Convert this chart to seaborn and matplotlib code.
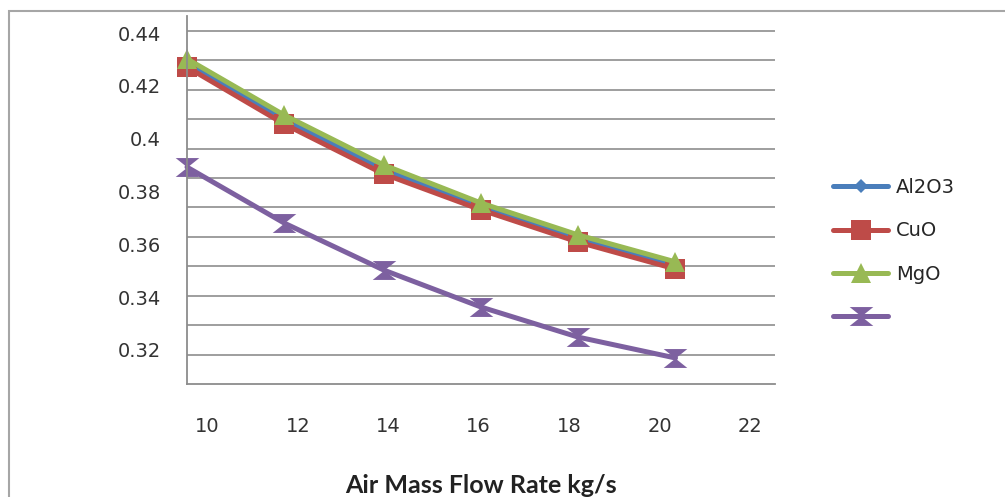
import matplotlib
matplotlib.use("Agg")
import matplotlib.pyplot as plt
from matplotlib.patches import Rectangle
from matplotlib.lines import Line2D
import seaborn as sns

# values
flow_rate = [9.55, 11.7, 13.9, 16.05, 18.2, 20.35]
al2o3 = [0.4286, 0.4072, 0.3883, 0.3743, 0.3621, 0.3520]
cuo = [0.4271, 0.4055, 0.3866, 0.3730, 0.3608, 0.3506]
mgo = [0.4302, 0.4089, 0.3900, 0.3756, 0.3635, 0.3533]
base = [0.3892, 0.3680, 0.3502, 0.3362, 0.3248, 0.3169]

series_names = ["Al2O3", "CuO", "MgO", " "]
x_ticks = [10, 12, 14, 16, 18, 20, 22]
y_ticks = [0.32, 0.34, 0.36, 0.38, 0.40, 0.42, 0.44]
y_tick_labels = ["0.32", "0.34", "0.36", "0.38", "0.4", "0.42", "0.44"]

sns.set_style("white")
plt.rcParams['font.family'] = ['DejaVu Sans']

hourglass = [(-1, 0.8), (1, 0.8), (-1, -0.8), (1, -0.8), (-1, 0.8)]
styles = [
    dict(color="#4A7EBB", marker="D", markersize=7),
    dict(color="#BE4B48", marker="s", markersize=14),
    dict(color="#98B954", marker="^", markersize=15),
    dict(color="#7D60A0", marker=hourglass, markersize=17),
]

fig = plt.figure(figsize=(10.05, 4.97), dpi=100)
pos = [187 / 1005, 113 / 497, 588 / 1005, 368 / 497]

# gridline layer (the reference's gridlines are spaced independently of its labels)
gax = fig.add_axes(pos)
gax.set_ylim(0, 368 / 29.42)
gax.set_yticks(range(1, 13))
gax.set_xticks([])
gax.tick_params(left=False, labelleft=False)
gax.grid(axis="y", color="#969696", linewidth=1.3)
for s in gax.spines.values():
    s.set_visible(False)

ax = fig.add_axes(pos)
ax.patch.set_visible(False)

for vals, name, st in zip([al2o3, cuo, mgo, base], series_names, styles):
    sns.lineplot(x=flow_rate, y=vals, ax=ax, linewidth=3.6, markeredgewidth=0,
                 clip_on=False, label=name, **st)

ax.set_xlim(9.55, 22.55)
ax.set_ylim(0.30705, 0.44644)
ax.set_xticks(x_ticks)
ax.set_xticklabels([str(t) for t in x_ticks])
ax.set_yticks(y_ticks)
ax.set_yticklabels(y_tick_labels)
ax.tick_params(axis="both", length=0, labelsize=14, colors="#333333")
ax.tick_params(axis="x", pad=24)
ax.tick_params(axis="y", pad=19)

for side in ["top", "right"]:
    ax.spines[side].set_visible(False)
for side in ["left", "bottom"]:
    ax.spines[side].set_color("#8C8C8C")
    ax.spines[side].set_linewidth(1.3)

ax.set_xlabel("Air Mass Flow Rate kg/s", fontsize=18, fontweight="bold",
              family=["Lato", "DejaVu Sans"], color="#222222", labelpad=27)
ax.set_ylabel("")

handles = [Line2D([], [], linewidth=3.6, markeredgewidth=0, **st) for st in styles]
ax.legend(handles, series_names, loc="upper left", bbox_to_anchor=(833 / 1005, 1 - 178 / 497),
          bbox_transform=fig.transFigure, frameon=False, fontsize=14, borderpad=0,
          borderaxespad=0, handlelength=2.85, handletextpad=0.4, labelspacing=1.25)

fig.patches.append(Rectangle((9 / 1005, -0.05), 1.1, 1.05 - 11 / 497, transform=fig.transFigure,
                             fill=False, edgecolor="#A6A6A6", linewidth=1.5))

fig.savefig("out.png", dpi=100)
